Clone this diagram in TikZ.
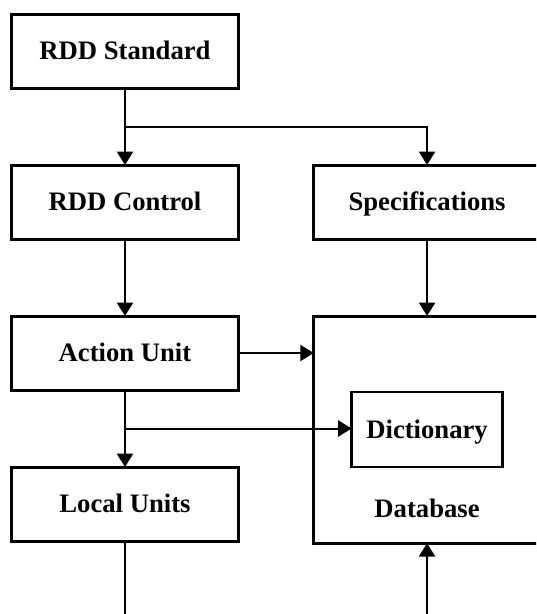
\documentclass[tikz,border=0pt]{standalone}
\usepackage{fontspec}
\setmainfont{Liberation Serif}
\usetikzlibrary{arrows.meta, positioning, calc}

\tikzset{
	block/.style = {draw, line width=2.25pt, outer sep=0pt, inner sep=0pt,
		minimum width=170pt, minimum height=55.5pt,
		text height=13.2pt, text depth=0pt},
	subblock/.style = {block, line width=1.8pt,
		minimum width=113.25pt, minimum height=56.25pt},
	link/.style = {line width=1.5pt},
	flow/.style = {link, -{Triangle[length=10pt, width=12pt]}},
}

\begin{document}
\begin{tikzpicture}[font=\bfseries\fontsize{20}{24}\selectfont, node distance=57.75pt and 56.55pt]
	\useasboundingbox (0,0) rectangle (402pt,-460.5pt);
	\clip (0,0) rectangle (402pt,-460.5pt);

	\node (std) [block] at (93.75pt,-38.25pt) {RDD Standard};
	\node (ctrl) [block, below = of std] {RDD Control};
	\node (spec) [block, right = of ctrl] {Specifications};
	\node (action) [block, below = of ctrl] {Action Unit};
	\node (local) [block, below = of action] {Local Units};
	\node (db) [block, below = of spec, minimum height=170.4pt] {};
	\node (dict) [subblock] at (db.center) {Dictionary};
	\node (dbname) [inner sep=0pt, below = 24pt of dict] {Database};

	% branch points and loose ends at the bottom edge
	\coordinate (floor) at (0,-460.5pt);
	\coordinate (split1) at ($(std.south)!0.5!(ctrl.north)$);
	\coordinate (split2) at ($(action.south)!0.5!(local.north)$);

	\draw [flow] (std) -- (ctrl);
	\draw [flow] (split1) -| (spec);
	\draw [flow] (ctrl) -- (action);
	\draw [flow] (spec) -- (db);
	\draw [flow] (action.east) -- (action.east -| db.west);
	\draw [flow] (action) -- (local);
	\draw [flow] (split2) -- (split2 -| dict.west);
	\draw [link] (local) -- (local.south |- floor);
	\draw [flow] (db.south |- floor) -- (db);

\end{tikzpicture}
\end{document}
